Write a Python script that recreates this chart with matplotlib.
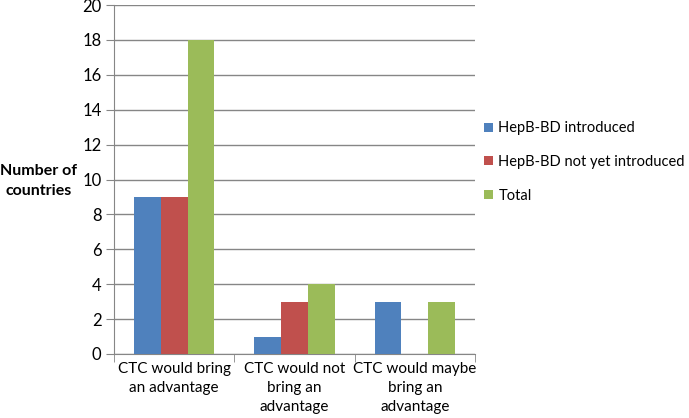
import matplotlib.pyplot as plt
import numpy as np

categories = ["CTC would bring\nan advantage",
              "CTC would not\nbring an\nadvantage",
              "CTC would maybe\nbring an\nadvantage"]
series_names = ["HepB-BD introduced", "HepB-BD not yet introduced", "Total"]
introduced = [9, 1, 3]
not_yet = [9, 3, 0]
total = [18, 4, 3]
yticks = list(range(0, 21, 2))

colors = ["#4F81BD", "#C0504D", "#9BBB59"]
grid_col = "#868686"

plt.rcParams['font.family'] = ['Lato', 'DejaVu Sans']

fig = plt.figure(figsize=(6.89, 4.18), dpi=100)
ax = fig.add_axes([114 / 689, 1 - 354 / 418, 361 / 689, 349 / 418])

x = np.arange(len(categories))
w = 0.222
for i, (vals, name) in enumerate(zip([introduced, not_yet, total], series_names)):
    ax.bar(x + (i - 1) * w, vals, width=w, color=colors[i], label=name, zorder=3)

ax.set_xlim(-0.5, len(categories) - 0.5)
ax.set_ylim(0, 20)
ax.set_yticks(yticks)
ax.yaxis.grid(True, color=grid_col, linewidth=1, zorder=0)
ax.tick_params(axis='y', length=6, color=grid_col, labelsize=12, pad=3)

# category labels centered, separator ticks at boundaries
ax.set_xticks(x)
ax.set_xticklabels(categories, fontsize=11, linespacing=1.45)
ax.tick_params(axis='x', length=0, pad=6)
ax.set_xticks(np.arange(-0.5, len(categories)), minor=True)
ax.tick_params(axis='x', which='minor', length=6, color=grid_col)

for s in ['top', 'right']:
    ax.spines[s].set_visible(False)
for s in ['left', 'bottom']:
    ax.spines[s].set_color(grid_col)

fig.text(39 / 689, 1 - 181 / 418, "Number of\ncountries", ha='center', va='center',
         fontsize=11.5, fontweight='bold', linespacing=1.55)

ax.legend(loc='center left', bbox_to_anchor=(478 / 689, 1 - 162 / 418),
          bbox_transform=fig.transFigure, frameon=False, fontsize=10.5,
          handlelength=0.6, handleheight=0.6, handletextpad=0.4, labelspacing=1.35,
          borderaxespad=0)

fig.savefig("out.png", dpi=100)
